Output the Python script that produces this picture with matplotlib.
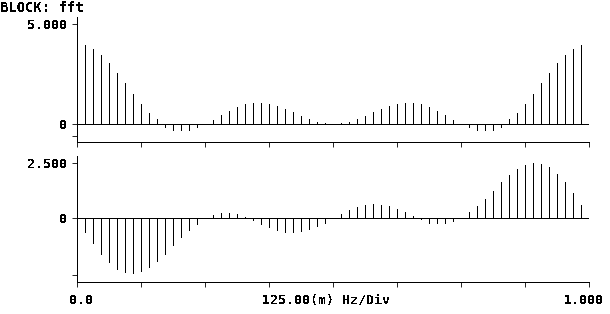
import numpy as np
import matplotlib
matplotlib.use('Agg')
import matplotlib.pyplot as plt

plt.rcParams['font.family'] = ['DejaVu Sans Mono']
plt.rcParams['font.weight'] = 'bold'
plt.rcParams['lines.antialiased'] = False
plt.rcParams['text.antialiased'] = False
plt.rcParams['patch.antialiased'] = False

# fft of a 64 point block, bins 0..63 over 0..1 Hz
n_bins = 64
freq = np.arange(n_bins) / n_bins

real_part = [4.07, 3.95, 3.77, 3.45, 3.07, 2.57, 2.07, 1.50, 1.00, 0.55, 0.23, -0.13,
             -0.30, -0.32, -0.30, -0.17, 0.00, 0.20, 0.45, 0.65, 0.85, 1.00, 1.05, 1.05,
             1.00, 0.90, 0.75, 0.60, 0.40, 0.25, 0.10, 0.03, 0.00, 0.03, 0.10, 0.25,
             0.40, 0.60, 0.75, 0.90, 1.00, 1.05, 1.05, 1.00, 0.85, 0.65, 0.45, 0.20,
             0.00, -0.17, -0.30, -0.32, -0.30, -0.13, 0.23, 0.55, 1.00, 1.50, 2.07, 2.57,
             3.07, 3.45, 3.77, 3.95]
imag_part = [0.00, -0.61, -1.15, -1.65, -2.02, -2.33, -2.47, -2.52, -2.42, -2.24, -1.97, -1.65,
             -1.24, -0.88, -0.56, -0.26, 0.00, 0.15, 0.24, 0.24, 0.20, 0.06, -0.09, -0.27,
             -0.42, -0.55, -0.61, -0.64, -0.59, -0.50, -0.37, -0.20, 0.00, 0.20, 0.37, 0.52,
             0.60, 0.64, 0.61, 0.55, 0.42, 0.27, 0.09, -0.06, -0.20, -0.24, -0.24, -0.15,
             0.00, 0.26, 0.56, 0.88, 1.24, 1.65, 1.97, 2.24, 2.42, 2.52, 2.47, 2.33,
             2.02, 1.65, 1.15, 0.61]

top_ticks = [-0.6, 0, 5]
top_labels = ['', '0', '5.000']
bot_ticks = [-2.6, 0, 2.5]
bot_labels = ['', '0', '2.500']
x_ticks = np.linspace(0, 1, 9)

W, H = 610, 314
fig = plt.figure(figsize=(W / 100, H / 100), dpi=100)

def px_axes(top, bottom):
    return fig.add_axes([77 / W, 1 - bottom / H, (589 - 77) / W, (bottom - top) / H])

ax1 = px_axes(17, 142)
ax2 = px_axes(156, 282)

panels = [(ax1, real_part, (-0.9, 5.35), top_ticks, top_labels),
          (ax2, imag_part, (-2.91, 2.83), bot_ticks, bot_labels)]
for ax, vals, ylim, yt, yl in panels:
    ax.vlines(freq, 0, vals, color='black', lw=0.5)
    ax.axhline(0, color='black', lw=0.6)
    ax.set_xlim(0, 1)
    ax.set_ylim(*ylim)
    ax.set_yticks(yt)
    ax.set_yticklabels(yl, fontweight='bold', fontsize=9.5)
    ax.set_xticks(x_ticks)
    ax.set_xticklabels([])
    for s in ['top', 'right']:
        ax.spines[s].set_visible(False)
    for s in ['left', 'bottom']:
        ax.spines[s].set_linewidth(0.6)
    ax.tick_params(length=3.6, width=0.6, pad=3.5)

fig.text(0, 1 - 8 / H, 'BLOCK: fft', fontsize=10, fontweight='bold', va='center', ha='left')
fig.text(69 / W, 1 - 300 / H, '0.0', fontsize=9.5, fontweight='bold', va='center', ha='left')
fig.text(262 / W, 1 - 300 / H, '125.00(m) Hz/Div', fontsize=9.5, fontweight='bold', va='center', ha='left')
fig.text(604 / W, 1 - 300 / H, '1.000', fontsize=9.5, fontweight='bold', va='center', ha='right')

fig.savefig('out.png', dpi=100)
